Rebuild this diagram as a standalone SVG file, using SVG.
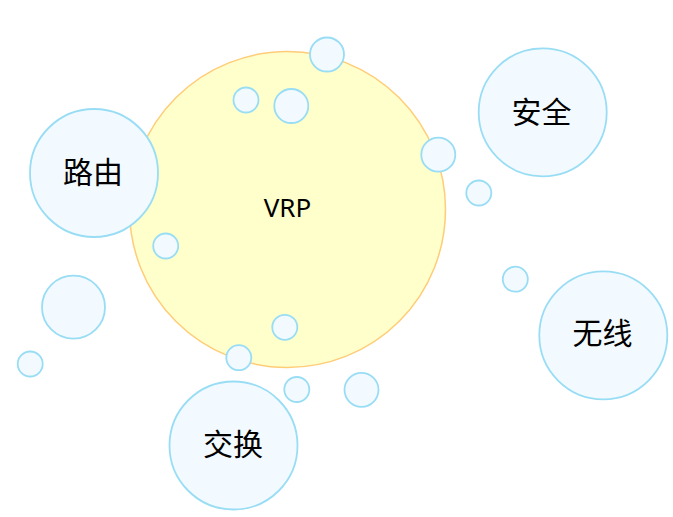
<svg xmlns="http://www.w3.org/2000/svg" width="673" height="517" viewBox="0 0 673 517">
<style>
.core{fill:#ffffcc;stroke:#ffcc77;stroke-width:1.5}
.b{fill:#f2faff;stroke:#99ddf5;stroke-width:1.8}
.t{font-family:"Noto Sans","Noto Sans CJK SC",sans-serif;fill:#000;text-anchor:middle}
.cjk{font-family:"Noto Sans CJK SC","Noto Sans",sans-serif;font-size:30px;fill:#000;text-anchor:middle}
</style>
<rect width="673" height="517" fill="#ffffff"/>
<g id="vrp">
<circle class="core" cx="287.5" cy="209.5" r="158"/>
<text class="t" x="287.5" y="217" font-size="26">VRP</text>
</g>
<g id="bubbles">
<circle class="b" cx="327" cy="54.5" r="17"/>
<circle class="b" cx="246" cy="100" r="12.5"/>
<circle class="b" cx="291.3" cy="106" r="17"/>
<circle class="b" cx="438.3" cy="154.7" r="17"/>
<circle class="b" cx="478.8" cy="193" r="12.5"/>
<circle class="b" cx="165.7" cy="246" r="12.5"/>
<circle class="b" cx="515.3" cy="279.2" r="12.5"/>
<circle class="b" cx="73.5" cy="307.2" r="31.5"/>
<circle class="b" cx="30.2" cy="364" r="12.5"/>
<circle class="b" cx="284.8" cy="327.3" r="12.5"/>
<circle class="b" cx="238.8" cy="357.7" r="12.5"/>
<circle class="b" cx="296.8" cy="389.5" r="12.5"/>
<circle class="b" cx="361.5" cy="389.8" r="17"/>
</g>
<g id="routing">
<circle class="b" cx="94" cy="173" r="64"/>
<text class="cjk" x="93" y="183">路由</text>
</g>
<g id="security">
<circle class="b" cx="542.7" cy="112.3" r="64"/>
<text class="cjk" x="541.5" y="123">安全</text>
</g>
<g id="wireless">
<circle class="b" cx="603.3" cy="335.3" r="64"/>
<text class="cjk" x="602.5" y="344">无线</text>
</g>
<g id="switching">
<circle class="b" cx="233.5" cy="445.5" r="64"/>
<text class="cjk" x="233" y="455">交换</text>
</g>
<g id="connectors"/>
</svg>
